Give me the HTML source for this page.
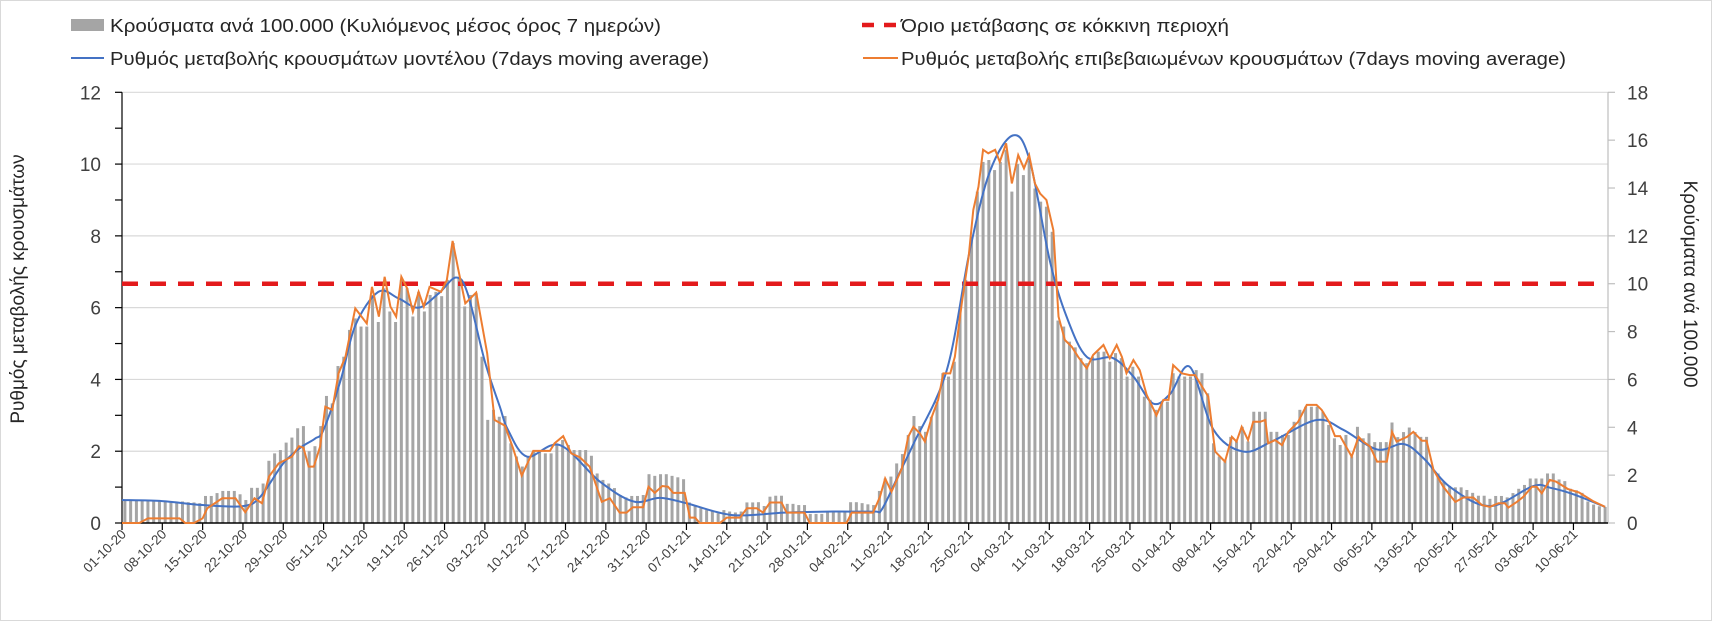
<!DOCTYPE html>
<html><head><meta charset="utf-8"><style>
html,body{margin:0;padding:0;background:#fff;}
svg{display:block;font-family:"Liberation Sans",sans-serif;}
</style></head><body>
<svg id="chart" width="1712" height="621" viewBox="0 0 1712 621" xmlns="http://www.w3.org/2000/svg">
<rect x="0.5" y="0.5" width="1711" height="620" fill="#fff" stroke="#d9d9d9"/>
<g id="grid"></g>
<g id="bars"></g>
<g id="axes"></g>
<line id="thr" x1="122" x2="1596" stroke="#e31a1c" stroke-width="4.5" stroke-dasharray="16,12"/>
<path id="blue" fill="none" stroke="#4472c4" stroke-width="2"/>
<path id="orange" fill="none" stroke="#ed7d31" stroke-width="2"/>
<g font-size="18" fill="#262626">
  <rect x="71" y="19" width="33" height="12" fill="#a5a5a5"/>
  <text x="110" y="32" textLength="551" lengthAdjust="spacingAndGlyphs">Κρούσματα ανά 100.000 (Κυλιόμενος μέσος όρος 7 ημερών)</text>
  <line x1="71" x2="104" y1="58" y2="58" stroke="#4472c4" stroke-width="2"/>
  <text x="110" y="65" textLength="599" lengthAdjust="spacingAndGlyphs">Ρυθμός μεταβολής κρουσμάτων μοντέλου (7days moving average)</text>
  <line x1="862" x2="898" y1="25" y2="25" stroke="#e31a1c" stroke-width="4.5" stroke-dasharray="12,10"/>
  <text x="901" y="32" textLength="328" lengthAdjust="spacingAndGlyphs">Όριο μετάβασης σε κόκκινη περιοχή</text>
  <line x1="863" x2="898" y1="58" y2="58" stroke="#ed7d31" stroke-width="2"/>
  <text x="901" y="65" textLength="665" lengthAdjust="spacingAndGlyphs">Ρυθμός μεταβολής επιβεβαιωμένων κρουσμάτων (7days moving average)</text>
</g>
<text transform="translate(24,289) rotate(-90)" text-anchor="middle" font-size="19" fill="#262626">Ρυθμός μεταβολής κρουσμάτων</text>
<text transform="translate(1684,284) rotate(90)" text-anchor="middle" font-size="19" fill="#262626">Κρούσματα ανά 100.000</text>
</svg>
<script>
const weekLabels = ["01-10-20","08-10-20","15-10-20","22-10-20","29-10-20","05-11-20","12-11-20","19-11-20","26-11-20","03-12-20","10-12-20","17-12-20","24-12-20","31-12-20","07-01-21","14-01-21","21-01-21","28-01-21","04-02-21","11-02-21","18-02-21","25-02-21","04-03-21","11-03-21","18-03-21","25-03-21","01-04-21","08-04-21","15-04-21","22-04-21","29-04-21","06-05-21","13-05-21","20-05-21","27-05-21","03-06-21","10-06-21"];
const leftTicks = [0,2,4,6,8,10,12];
const rightTicks = [0,2,4,6,8,10,12,14,16,18];
const thresholdRight = 10;
const casesPer100k = [
0.93,0.93,0.93,0.95,0.93,0.93,0.93, 0.93,0.92,0.9,0.9,0.87,0.86,0.83,
1.13,1.13,1.25,1.34,1.34,1.34,1.2, 0.96,1.47,1.47,1.65,2.6,2.91,3.05,
3.36,3.57,3.96,4.05,3.0,3.21,4.05, 5.31,5.0,6.56,6.95,8.07,8.55,8.21,
8.21,9.53,8.4,9.81,8.84,8.4,10.16, 9.81,8.63,9.66,8.84,9.53,9.66,9.48,
10.16,11.7,10.29,9.05,9.53,9.6,6.95, 4.31,4.73,4.44,4.47,3.33,2.78,2.36,
2.78,2.99,2.99,2.91,2.91,3.33,3.47, 3.26,3.05,3.05,3.05,2.81,2.07,1.8,
1.65,1.46,1.17,1.07,1.13,1.13,1.17, 2.04,1.97,2.04,2.04,1.97,1.91,1.83,
0.86,0.75,0.62,0.54,0.48,0.41,0.54, 0.48,0.44,0.48,0.86,0.86,0.87,0.71,
1.1,1.14,1.14,0.8,0.8,0.75,0.75, 0.38,0.38,0.38,0.44,0.44,0.48,0.48,
0.87,0.87,0.83,0.78,0.75,1.34,1.86, 1.94,2.49,2.88,3.68,4.47,4.05,3.81,
4.44,5.07,6.26,6.12,6.74,8.9,10.16, 11.97,13.85,15.09,15.17,14.75,15.09,15.6,
13.85,15.0,14.54,15.15,13.98,13.43,13.22, 12.17,8.46,8.21,7.58,7.34,6.89,6.68,
6.95,7.16,7.16,6.74,7.1,6.89,6.12, 6.53,6.12,5.28,5.15,4.73,5.07,5.07,
6.26,6.12,6.12,6.12,6.39,6.26,5.42, 3.33,2.78,2.63,3.6,3.41,4.02,3.41,
4.65,4.65,4.65,3.81,3.81,3.68,3.68, 4.23,4.73,4.86,4.86,4.86,4.65,4.1,
3.54,3.26,3.68,2.78,4.02,3.54,3.75, 3.38,3.38,3.38,4.2,3.59,3.8,3.99,
3.8,3.6,3.6,2.33,2.07,1.73,1.55, 1.49,1.49,1.38,1.26,1.14,1.14,1.01,
1.13,1.13,1.07,1.25,1.43,1.59,1.86, 1.86,1.86,2.07,2.07,1.82,1.75,1.43,
1.37,1.26,0.9,0.77,0.7,0.67];
const blueDays = [0,7,14,21,24,28,31,33.5,35,38,40.5,44.5,48,51.5,55,58,60,63,65.6,67,70.3,76,83,88.8,93.4,98,106,115,123.5,130.5,132,135,137.4,143.2,147.2,150.7,154.7,157.6,161.1,164,167.5,172,175.6,179,182,185.4,189.5,194.7,200,207.4,212,217.9,222.5,226,230.6,237.5,245,248,252,257.5];
const blueVals = [0.64,0.61,0.5,0.47,0.73,1.66,2.1,2.35,2.6,4.0,5.5,6.44,6.26,6.0,6.4,6.84,6.4,4.5,3.24,2.6,1.85,2.17,1.15,0.6,0.7,0.55,0.22,0.29,0.32,0.32,0.4,1.4,2.2,4.26,7.6,9.8,10.8,10.1,7.3,5.75,4.63,4.6,4.08,3.33,3.6,4.35,2.6,1.99,2.3,2.87,2.6,2.05,2.2,1.8,1.0,0.47,1.03,0.98,0.8,0.45];
const orangeDays = [0,3,4.5,10,11,12.5,14,14.8,17.4,19.7,21.4,23,24.3,25.5,27.2,29.5,30.7,31.5,32.4,33.3,34.4,35.3,36.5,37.6,38.8,40.5,42.5,43.4,44.6,45.6,46.6,47.6,48.5,49.5,50.5,51.5,52.4,53.4,55.4,56.4,57.4,58.4,59.6,61.5,63.4,64.7,66.5,67.9,69.4,71.4,74.3,75.1,76.6,78,79.5,81.2,83.3,84.7,86.4,87.6,88.7,90.5,91.4,92.5,93.8,94.8,95.7,97.7,98.6,99.5,100.3,103.8,105,107.3,108.5,110.2,111.3,112.5,114.5,115.4,118.5,119.4,125.8,126.7,130.4,131.6,132.5,133.6,135.4,136.5,137.4,138.5,139.4,140.6,141.7,142.6,143.8,144.6,145.8,147,147.8,148.7,149.5,150.4,151.6,152.4,153.5,154.5,155.6,156.6,157.5,158.5,159.4,160.5,161.7,162.6,163.7,164.9,166,167.5,168.6,170.4,171.5,172.7,173.6,174.4,175.6,176.7,177.9,179.6,180.8,181.7,182.5,184,185.4,186.3,188.6,189.8,191.5,192.7,193.5,194.4,195.5,196.4,197.6,198.5,199,200.2,201.4,202.5,204.2,205.7,207.4,208.3,209.7,210.6,211.5,213.5,214.7,215.5,216.7,217.9,219.6,220.5,221.3,223.1,224.2,225.7,226.5,227.7,229.4,231.5,232.9,234.6,236.1,237.5,239,240.1,240.7,242.2,243.3,244.8,245.6,246.5,247.9,249,251,253,255.5,257.5];
const orangeVals = [0,0,0.13,0.13,0,0,0.13,0.41,0.69,0.69,0.3,0.69,0.55,1.29,1.66,1.85,2.14,2.1,1.57,1.57,2.13,3.24,3.15,4.17,4.63,5.98,5.56,6.58,5.75,6.86,6.03,5.75,6.86,6.54,5.89,6.44,6.03,6.58,6.44,6.77,7.86,7.05,6.12,6.42,4.73,2.87,2.71,2.08,1.32,2.01,2.01,2.22,2.42,1.94,1.83,1.57,0.59,0.69,0.29,0.29,0.44,0.44,1.01,0.84,1.03,1.01,0.84,0.84,0.15,0.15,0,0,0.15,0.15,0.41,0.41,0.29,0.57,0.57,0.29,0.29,0,0,0.29,0.29,0.73,1.24,0.87,1.52,2.4,2.68,2.5,2.27,2.96,3.43,4.17,4.17,4.63,6.12,7.42,8.72,9.37,10.4,10.3,10.4,10.06,10.58,9.46,10.25,9.88,10.25,9.46,9.18,9.0,8.16,5.75,5.1,4.91,4.63,4.31,4.68,4.96,4.59,4.96,4.63,4.17,4.54,4.26,3.57,3.0,3.43,3.43,4.4,4.17,4.12,4.12,3.52,1.99,1.71,2.4,2.27,2.68,2.31,2.82,2.82,2.87,2.22,2.31,2.17,2.54,2.82,3.29,3.29,3.15,2.78,2.42,2.42,1.85,2.4,2.27,2.13,1.71,1.71,2.54,2.27,2.4,2.54,2.29,2.29,1.48,1.01,0.59,0.71,0.71,0.5,0.45,0.55,0.55,0.43,0.59,0.73,1.01,1.01,0.83,1.2,1.15,0.95,0.85,0.6,0.45];

const NS = "http://www.w3.org/2000/svg";
const X0 = 122, X1 = 1608, Y0 = 523, Y1 = 92.3, NDAYS = 258;
const W = (X1 - X0) / NDAYS;
const xDay = d => X0 + d * W;
const yL = v => Y0 - (v / 12) * (Y0 - Y1);
const yR = v => Y0 - (v / 18) * (Y0 - Y1);
function mk(tag, attrs, parent) { const e = document.createElementNS(NS, tag); for (const k in attrs) e.setAttribute(k, attrs[k]); parent.appendChild(e); return e; }

const grid = document.getElementById('grid');
leftTicks.forEach(t => { if (t === 0) return;
  const l = mk('line', {x1: X0, x2: X1, y1: yL(t), y2: yL(t), stroke: '#d9d9d9', 'stroke-width': 1.2}, grid);
  
  
});

const bars = document.getElementById('bars');
casesPer100k.forEach((v, i) => {
  const r = mk('rect', {x: xDay(i + 0.5) - 1.5, y: yR(v), width: 3, height: Y0 - yR(v), fill: '#a5a5a5'}, bars);
  
  
});

const axes = document.getElementById('axes');
mk('line', {x1: X0, x2: X0, y1: Y1, y2: Y0, stroke: '#000', 'stroke-width': 1.2}, axes);
mk('line', {x1: X1, x2: X1, y1: Y1, y2: Y0, stroke: '#bfbfbf', 'stroke-width': 1.2}, axes);
mk('line', {x1: X0, x2: X1, y1: Y0, y2: Y0, stroke: '#000', 'stroke-width': 1.5}, axes);
for (let v = 0; v <= 12; v++) mk('line', {x1: X0 - 7, x2: X0, y1: yL(v), y2: yL(v), stroke: '#000', 'stroke-width': 1.2}, axes);
leftTicks.forEach(t => {
  const tx = mk('text', {x: 101, y: yL(t) + 7, 'text-anchor': 'end', 'font-size': 19, fill: '#404040'}, axes);
  tx.textContent = t;
  
  
});
rightTicks.forEach(t => {
  mk('line', {x1: X1, x2: X1 + 7, y1: yR(t), y2: yR(t), stroke: '#bfbfbf', 'stroke-width': 1.2}, axes);
  const tx = mk('text', {x: 1627, y: yR(t) + 7, 'text-anchor': 'start', 'font-size': 19, fill: '#404040'}, axes);
  tx.textContent = t;
  
  
});
weekLabels.forEach((lab, k) => {
  const x = xDay(k * 7);
  mk('line', {x1: x, x2: x, y1: Y0, y2: Y0 + 7, stroke: '#000', 'stroke-width': 1.2}, axes);
  const tx = mk('text', {transform: `translate(${x + 5},${Y0 + 12}) rotate(-45)`, 'text-anchor': 'end', 'font-size': 13.5, fill: '#404040'}, axes);
  tx.textContent = lab;
  
  
});

const thr = document.getElementById('thr');
thr.setAttribute('y1', yR(thresholdRight)); thr.setAttribute('y2', yR(thresholdRight));

const bp = blueDays.map((d, i) => [xDay(d), yL(blueVals[i])]);
let dstr = `M${bp[0][0]},${bp[0][1]}`;
for (let i = 0; i < bp.length - 1; i++) {
  const p0 = bp[Math.max(0, i - 1)], p1 = bp[i], p2 = bp[i + 1], p3 = bp[Math.min(bp.length - 1, i + 2)];
  const c1 = [p1[0] + (p2[0] - p0[0]) / 6, p1[1] + (p2[1] - p0[1]) / 6];
  const c2 = [p2[0] - (p3[0] - p1[0]) / 6, p2[1] - (p3[1] - p1[1]) / 6];
  dstr += ` C${c1[0]},${c1[1]} ${c2[0]},${c2[1]} ${p2[0]},${p2[1]}`;
}
document.getElementById('blue').setAttribute('d', dstr);
document.getElementById('orange').setAttribute('d', orangeDays.map((d, i) => (i ? 'L' : 'M') + xDay(d) + ',' + yL(orangeVals[i])).join(' '));
</script>
</body></html>
